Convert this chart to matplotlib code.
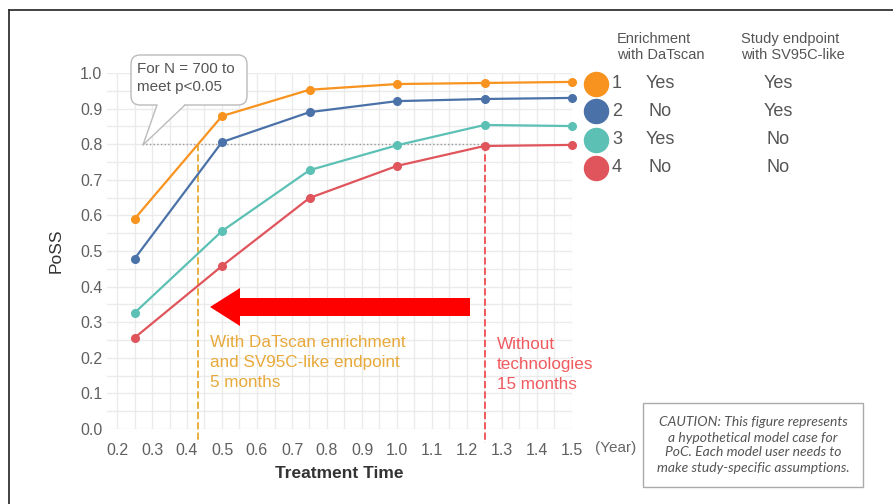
import numpy as np
import matplotlib.pyplot as plt
from matplotlib.patches import FancyBboxPatch, Polygon, FancyArrow

plt.rcParams['font.family'] = ['Liberation Sans', 'DejaVu Sans']

# datos
treatment_time = [0.25, 0.5, 0.75, 1.0, 1.25, 1.5]
poss_1 = [0.59, 0.879, 0.953, 0.969, 0.972, 0.975]
poss_2 = [0.478, 0.806, 0.890, 0.921, 0.927, 0.930]
poss_3 = [0.326, 0.556, 0.727, 0.797, 0.854, 0.851]
poss_4 = [0.256, 0.458, 0.649, 0.739, 0.795, 0.798]
series = [poss_1, poss_2, poss_3, poss_4]
colors = ['#F7931E', '#4A72A8', '#5CC0B5', '#E0555C']
case_ids = ['1', '2', '3', '4']
enrichment = ['Yes', 'No', 'Yes', 'No']
endpoint = ['Yes', 'Yes', 'No', 'No']
x_ticks = [0.2, 0.3, 0.4, 0.5, 0.6, 0.7, 0.8, 0.9, 1.0, 1.1, 1.2, 1.3, 1.4, 1.5]
y_ticks = [0.0, 0.1, 0.2, 0.3, 0.4, 0.5, 0.6, 0.7, 0.8, 0.9, 1.0]
target_poss = 0.8
t_with = 0.43
t_without = 1.25

W, H = 893, 504
fig = plt.figure(figsize=(W / 100, H / 100), dpi=100)

# ejes principales (posicion en pixeles)
x0, x1 = 0.17, 1.5
left_px = 117 - (0.2 - x0) * 350
ax = fig.add_axes([left_px / W, (H - 429) / H, (572 - left_px) / W, 356 / H])
ax.set_xlim(x0, x1)
ax.set_ylim(0, 1.0)
for s in ax.spines.values():
    s.set_visible(False)
ax.set_xticks(x_ticks)
ax.set_yticks(y_ticks)
ax.set_xticks(np.arange(0.25, 1.5, 0.1), minor=True)
ax.set_yticks(np.arange(0.05, 1.0, 0.1), minor=True)
ax.set_xticklabels([f'{v:.1f}' for v in x_ticks])
ax.set_yticklabels([f'{v:.1f}' for v in y_ticks])
ax.tick_params(which='both', length=0, labelsize=11.5, colors='#606060')
ax.tick_params(axis='x', pad=10)
ax.tick_params(axis='y', pad=3)
ax.grid(True, which='both', color='#ebebeb', linewidth=1)
ax.set_axisbelow(True)

for vals, c in zip(series, colors):
    ax.plot(treatment_time, vals, color=c, linewidth=1.6, marker='o', markersize=5.5,
            zorder=3, clip_on=False)

# lineas de referencia
ax.plot([0.27, t_without], [target_poss, target_poss], color='#999999', linestyle=':', linewidth=1, zorder=2)
ax.plot([t_with, t_with], [target_poss, -0.04], color='#E8B040', linestyle='--', linewidth=1.4, clip_on=False, zorder=2)
ax.plot([t_without, t_without], [target_poss, -0.04], color='#F05A5F', linestyle='--', linewidth=1.4, clip_on=False, zorder=2)

ax.set_ylabel('PoSS', fontsize=12.5, color='#333333', labelpad=12)
ax.set_xlabel('Treatment Time', fontsize=12.5, fontweight='bold', color='#333333', labelpad=6)

# capa de anotaciones en pixeles
ov = fig.add_axes([0, 0, 1, 1])
ov.set_xlim(0, W)
ov.set_ylim(H, 0)
ov.axis('off')
ov.patch.set_alpha(0)

# marco de la imagen
ov.plot([9, W], [10, 10], color='#333333', linewidth=1.3)
ov.plot([9, 9], [10, H], color='#333333', linewidth=1.3)

# globo "For N = 700"
box = FancyBboxPatch((131, 55), 116, 50, boxstyle='round,pad=0,rounding_size=9',
                     fc='white', ec='#bbbbbb', lw=1, zorder=5)
ov.add_patch(box)
ov.add_patch(Polygon([[157, 104], [185, 104], [143, 145]], closed=True, fc='white', ec='none', zorder=6))
ov.plot([157, 143, 185], [105, 145, 105], color='#bbbbbb', lw=1, zorder=6)
ov.text(137, 62, 'For N = 700 to\nmeet p<0.05', fontsize=11, color='#555555', va='top', ha='left',
        linespacing=1.35, zorder=7)

# flecha roja
ov.add_patch(FancyArrow(470, 307, -260, 0, width=18, head_width=38, head_length=30,
                        length_includes_head=True, fc='#FF0000', ec='none', zorder=5))

ov.text(210, 335, 'With DaTscan enrichment\nand SV95C-like endpoint\n5 months', fontsize=12.3,
        color='#E8A93A', va='top', ha='left', linespacing=1.4)
ov.text(497, 337, 'Without\ntechnologies\n15 months', fontsize=12.3,
        color='#F05A5F', va='top', ha='left', linespacing=1.4)

ov.text(595, 448, '(Year)', fontsize=11, color='#666666', va='center', ha='left')

# leyenda
ov.text(617, 47, 'Enrichment\nwith DaTscan', fontsize=10.5, color='#555555', va='center', ha='left',
        multialignment='left', linespacing=1.15)
ov.text(741, 47, 'Study endpoint\nwith SV95C-like', fontsize=10.5, color='#555555', va='center', ha='left',
        multialignment='left', linespacing=1.15)
leg_y = [84, 111, 140, 168]
for yy, c, cid, en, ep in zip(leg_y, colors, case_ids, enrichment, endpoint):
    ov.scatter([596], [yy], s=300, color=c, zorder=5)
    ov.text(612, yy, cid, fontsize=13, color='#555555', va='center', ha='left')
    ov.text(660, yy, en, fontsize=13, color='#555555', va='center', ha='center')
    ov.text(778, yy, ep, fontsize=13, color='#555555', va='center', ha='center')

# cuadro de advertencia
ov.add_patch(plt.Rectangle((643, 403), 220, 84, fc='white', ec='#aaaaaa', lw=1))
ov.text(753, 445, 'CAUTION: This figure represents\na hypothetical model case for\nPoC. Each model user needs to\nmake study-specific assumptions.',
        fontsize=10, family=['Lato', 'DejaVu Sans'], style='italic', color='#555555',
        va='center', ha='center', linespacing=1.3)

fig.savefig('out.png', dpi=100)
